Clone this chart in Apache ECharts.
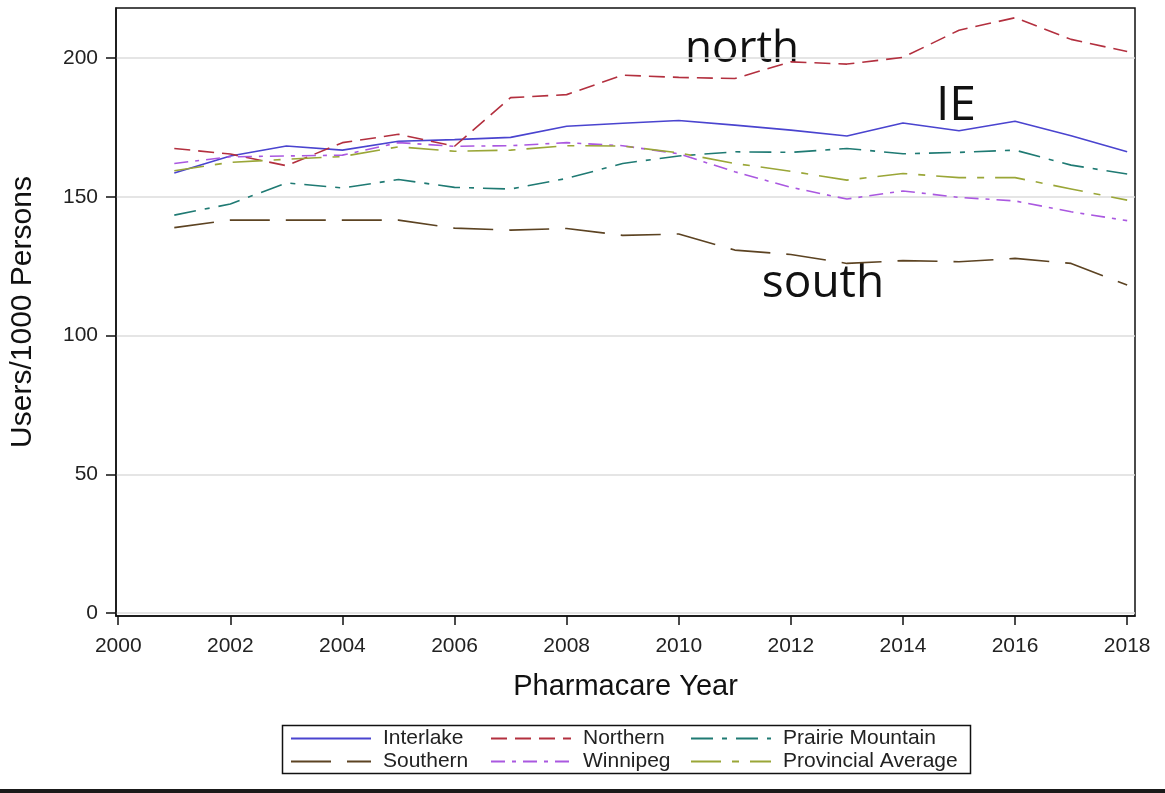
<!DOCTYPE html>
<html>
<head>
<meta charset="utf-8">
<script src="https://cdn.jsdelivr.net/npm/echarts@6/dist/echarts.min.js"></script>
<style>
  html, body { margin: 0; padding: 0; background: #fff; }
  #main { width: 1165px; height: 793px; }
</style>
</head>
<body>
<div id="main"></div>
<script>
// values
var years = [2001, 2002, 2003, 2004, 2005, 2006, 2007, 2008, 2009, 2010, 2011, 2012, 2013, 2014, 2015, 2016, 2017, 2018]
var interlake = [158.6, 164.7, 168.3, 166.8, 170.0, 170.6, 171.4, 175.4, 176.5, 177.5, 175.8, 174.0, 171.9, 176.6, 173.8, 177.2, 172.0, 166.2]
var northern = [167.4, 165.4, 161.2, 169.5, 172.5, 168.2, 185.7, 186.8, 193.8, 193.0, 192.6, 198.6, 197.8, 200.2, 210.0, 214.5, 206.7, 202.3]
var prairieMountain = [143.4, 147.4, 155.0, 153.2, 156.2, 153.4, 152.8, 156.6, 162.0, 164.7, 166.2, 166.0, 167.4, 165.5, 166.0, 166.8, 161.4, 158.2]
var southern = [138.9, 141.6, 141.6, 141.6, 141.6, 138.7, 138.0, 138.6, 136.1, 136.6, 130.8, 129.2, 126.0, 127.0, 126.6, 127.8, 126.0, 118.2]
var winnipeg = [162.0, 164.4, 164.7, 165.0, 169.5, 168.2, 168.4, 169.5, 168.4, 165.5, 159.0, 153.4, 149.2, 152.1, 149.8, 148.5, 144.6, 141.4]
var provincialAverage = [159.4, 162.4, 163.5, 164.5, 168.0, 166.4, 166.8, 168.4, 168.3, 165.8, 162.0, 159.2, 156.0, 158.4, 156.9, 156.9, 152.8, 148.8]

var xTicks = [2000, 2002, 2004, 2006, 2008, 2010, 2012, 2014, 2016, 2018]
var yTicks = [0, 50, 100, 150, 200]

var font = 'Liberation Sans, Arial, sans-serif'

function pairs (vals) {
  return vals.map(function (v, i) { return [years[i], v] })
}

// name, values, colour, dash pattern
var lines = [
  ['Interlake', interlake, '#4a44cf', 'solid'],
  ['Northern', northern, '#b3303f', [16, 8]],
  ['Prairie Mountain', prairieMountain, '#1f7a73', [22, 9, 5, 9]],
  ['Southern', southern, '#5c4322', [40, 16]],
  ['Winnipeg', winnipeg, '#aa58e0', [14, 7, 4, 7]],
  ['Provincial Average', provincialAverage, '#9aa637', [30, 11, 7, 11]]
]

// legend slots: left, top
var legendPos = [
  [290, 728], [490, 728], [690, 728],
  [290, 751], [490, 751], [690, 751]
]

var myChart = echarts.init(document.getElementById('main'))
myChart.setOption({
  animation: false,
  grid: {
    left: 116,
    right: 30,
    top: 8,
    bottom: 177,
    outerBoundsMode: 'none',
    show: true,
    borderColor: '#111',
    borderWidth: 1.5
  },
  legend: lines.map(function (l, i) {
    return {
      data: [l[0]],
      left: legendPos[i][0],
      top: legendPos[i][1],
      itemWidth: 80,
      itemHeight: 14,
      padding: 0,
      itemStyle: { opacity: 0 },
      textStyle: {
        fontFamily: font,
        fontSize: 21,
        color: '#222',
        padding: [0, 0, 0, 7]
      }
    }
  }),
  xAxis: {
    type: 'value',
    min: 1999.96,
    max: 2018.14,
    name: 'Pharmacare Year',
    nameLocation: 'middle',
    nameGap: 56,
    nameTextStyle: { fontFamily: font, fontSize: 29, color: '#111' },
    axisLine: { show: true, onZero: false, lineStyle: { color: '#111', width: 1.5 } },
    axisTick: { show: true, length: 9, customValues: xTicks, lineStyle: { color: '#111', width: 1.5 } },
    axisLabel: {
      customValues: xTicks,
      formatter: function (v) { return String(v) },
      fontFamily: font,
      fontSize: 21,
      color: '#222',
      margin: 20
    },
    splitLine: { show: false }
  },
  yAxis: {
    type: 'value',
    min: -1,
    max: 218,
    name: 'Users/1000 Persons',
    nameLocation: 'middle',
    nameGap: 78,
    nameTextStyle: { fontFamily: font, fontSize: 30, color: '#111' },
    axisLine: { show: true, onZero: false, lineStyle: { color: '#111', width: 1.5 } },
    axisTick: { show: true, length: 10, customValues: yTicks, lineStyle: { color: '#111', width: 1.5 } },
    axisLabel: { customValues: yTicks, fontFamily: font, fontSize: 21, color: '#222', margin: 18 },
    splitLine: { show: true, lineStyle: { color: '#dcdcdc', width: 1.5 } }
  },
  series: lines.map(function (l) {
    return {
      name: l[0],
      type: 'line',
      data: pairs(l[1]),
      symbol: 'none',
      lineStyle: { color: l[2], width: 1.6, type: l[3] },
      itemStyle: { color: l[2] }
    }
  }),
  graphic: [
    { type: 'rect', left: 280, top: 723, shape: { width: 688, height: 48 }, style: { fill: 'none', stroke: '#111', lineWidth: 1.5 } },
    { type: 'rect', left: 0, top: 789, shape: { width: 1165, height: 4 }, style: { fill: '#1a1a1a' } },
    { type: 'text', x: 742, y: 49, style: { text: 'north', font: '44px "Open Sans", sans-serif', fill: '#111', textAlign: 'center', textVerticalAlign: 'middle' } },
    { type: 'text', x: 956, y: 106, style: { text: 'IE', font: '48px "Open Sans", sans-serif', fill: '#111', textAlign: 'center', textVerticalAlign: 'middle' } },
    { type: 'text', x: 823, y: 284, style: { text: 'south', font: '46px "Open Sans", sans-serif', fill: '#111', textAlign: 'center', textVerticalAlign: 'middle' } }
  ]
})
</script>
</body>
</html>
